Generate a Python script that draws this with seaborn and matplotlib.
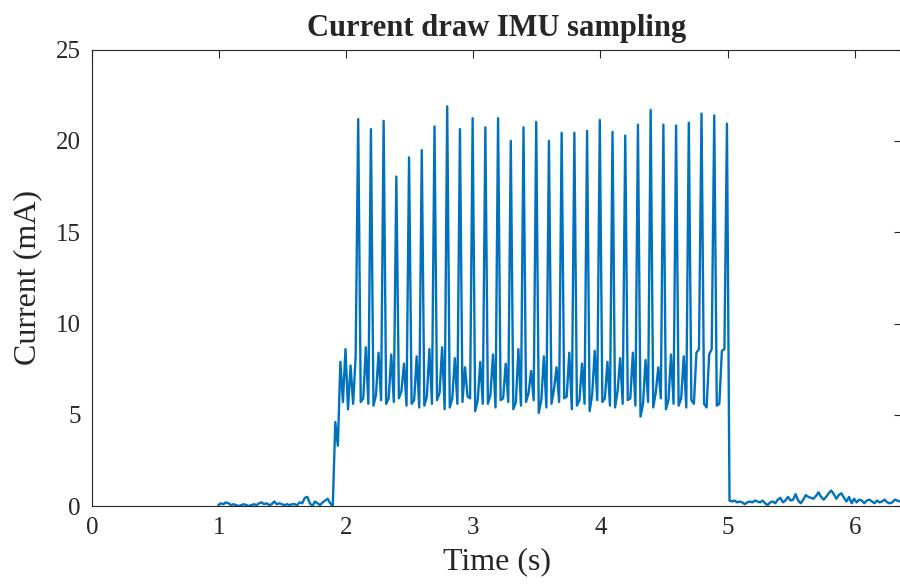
import numpy as np
import pandas as pd
import seaborn as sns
import matplotlib.pyplot as plt

# sampling grid of the logger
t_start = 0.995
dt = 0.02

# idle before sampling starts (1.0 s .. 1.9 s)
pre_idle = [0.05, 0.15, 0.1, 0.2, 0.15, 0.05, 0.1, 0.05, 0.0, 0.05,
            0.1, 0.05, 0.0, 0.05, 0.1, 0.05, 0.15, 0.2, 0.1, 0.15,
            0.05, 0.1, 0.25, 0.1, 0.15, 0.1, 0.05, 0.1, 0.05, 0.1,
            0.1, 0.05, 0.2, 0.15, 0.45, 0.5, 0.15, 0.0, 0.25, 0.15,
            0.05, 0.2, 0.3, 0.4, 0.15, 0.0]

# wake-up ramp before the first spike
ramp = [4.6, 3.3, 7.9, 5.7, 8.6, 5.3, 7.7, 5.6, 8.2]

# IMU read spikes, one every 0.1 s
peaks = [21.2, 20.65, 21.1, 18.05, 19.1, 19.5, 20.8, 21.9, 20.65, 21.25,
         20.75, 21.25, 20.0, 20.75, 21.05, 20.0, 20.45, 20.45, 20.55, 21.15,
         20.5, 20.3, 20.9, 21.7, 20.9, 20.85, 21.0, 21.5, 21.4, 20.95]

# samples between spikes (4 per period)
between = [
    [5.7, 5.9, 8.7, 5.6], [5.5, 6.1, 8.4, 5.8], [5.6, 5.9, 8.3, 5.7],
    [5.9, 6.3, 7.8, 5.5], [5.6, 5.8, 8.2, 5.4], [5.5, 6.0, 8.6, 5.6],
    [5.8, 6.2, 8.7, 5.3], [5.4, 5.9, 8.1, 5.6], [5.7, 7.6, 6.0, 5.9],
    [5.2, 5.8, 7.9, 5.6], [5.6, 6.1, 8.3, 5.4], [5.8, 5.9, 7.8, 5.7],
    [5.3, 5.7, 8.6, 5.5], [5.7, 6.2, 7.4, 5.8], [5.1, 5.8, 8.2, 5.4],
    [5.6, 6.4, 7.6, 5.7], [5.9, 6.0, 8.4, 5.3], [5.5, 5.8, 7.8, 5.6],
    [5.2, 6.1, 8.5, 5.8], [5.7, 5.9, 7.9, 5.5], [5.4, 6.3, 8.1, 5.6],
    [5.8, 5.9, 8.4, 5.5], [4.9, 5.6, 8.0, 5.7], [5.4, 6.2, 7.6, 5.9],
    [5.3, 5.8, 8.3, 5.6], [5.5, 5.9, 8.2, 5.4], [5.8, 5.6, 8.4, 8.6],
    [5.6, 5.4, 8.3, 8.6], [5.5, 5.6, 8.5, 8.6], [5.7, 5.5, 8.5, 8.6],
]

# idle after sampling stops (5.0 s .. end)
post_idle = [0.3, 0.25, 0.3, 0.2, 0.25, 0.2, 0.1, 0.2, 0.25, 0.2,
             0.3, 0.25, 0.2, 0.3, 0.15, 0.05, 0.2, 0.25, 0.15, 0.35,
             0.45, 0.2, 0.3, 0.5, 0.3, 0.35, 0.65, 0.3, 0.15, 0.35,
             0.6, 0.5, 0.45, 0.4, 0.55, 0.75, 0.5, 0.35, 0.5, 0.7,
             0.85, 0.65, 0.4, 0.6, 0.7, 0.45, 0.25, 0.5, 0.15, 0.4,
             0.2, 0.35, 0.3, 0.15, 0.3, 0.35, 0.25, 0.15, 0.3, 0.2,
             0.25, 0.35, 0.2, 0.15, 0.2, 0.35, 0.3, 0.25]

current = list(pre_idle) + list(ramp)
for p, rest in zip(peaks, between):
    current += [p] + rest
current = current[:-4]  # last period ends on its spike
current += post_idle

time = t_start + dt * np.arange(len(current))
df = pd.DataFrame({'Time': time, 'Current': current})

sns.set_theme(style='white')
plt.rcParams['font.family'] = ['Liberation Serif', 'DejaVu Serif']

fig = plt.figure(figsize=(9, 5.85), dpi=100)
ax = fig.add_axes([0.102, 0.135, 0.9, 0.78])

sns.lineplot(data=df, x='Time', y='Current', ax=ax, color='#0072BD',
             linewidth=1.7, estimator=None, sort=False)

ax.set_xlim(0, 6.37)
ax.set_ylim(0, 25)
ax.set_xticks(range(0, 7))
ax.set_yticks(range(0, 26, 5))
ax.tick_params(direction='in', length=6, width=0.8, top=True, right=True,
               labelsize=18, colors='#262626', pad=8)
for s in ax.spines.values():
    s.set_color('#262626')
    s.set_linewidth(0.8)

ax.set_xlabel('Time (s)', fontsize=23, labelpad=6)
ax.set_ylabel('Current (mA)', fontsize=23, labelpad=10)
ax.set_title('Current draw IMU sampling', fontsize=22, fontweight='bold', pad=10)

fig.savefig('out.png', dpi=100)
